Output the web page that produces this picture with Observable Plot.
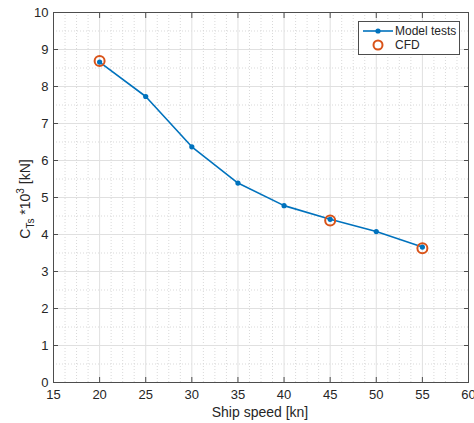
<!DOCTYPE html>
<html><head><meta charset="utf-8">
<script src="https://cdn.jsdelivr.net/npm/d3@7"></script>
<script src="https://cdn.jsdelivr.net/npm/@observablehq/plot@0.6"></script>
<style>
body{margin:0;background:#fff;}
#chart svg{font-family:"Liberation Sans",Arial,sans-serif;}
</style>
</head><body><div id="chart"></div>
<script>
// Data
const speed = [20, 25, 30, 35, 40, 45, 50, 55];
const modelTests = [8.66, 7.73, 6.37, 5.39, 4.78, 4.41, 4.08, 3.66];
const cfdSpeed = [20, 45, 55];
const cfdValues = [8.69, 4.38, 3.63];
const xTicks = [15, 20, 25, 30, 35, 40, 45, 50, 55, 60];
const yTicks = [0, 1, 2, 3, 4, 5, 6, 7, 8, 9, 10];
const xMinor = d3.range(15, 60.001, 1.25).filter(v => !xTicks.includes(v));
const yMinor = d3.range(0.5, 10, 1);
const xLabel = "Ship speed [kn]";
const legendLabels = ["Model tests", "CFD"];

const blue = "#0072BD", orange = "#D95319", axisColor = "#4d4d4d";

const modelData = speed.map((s, i) => ({s, v: modelTests[i]}));
const cfdData = cfdSpeed.map((s, i) => ({s, v: cfdValues[i]}));

const chart = Plot.plot({
  width: 474, height: 423,
  marginLeft: 53, marginRight: 6, marginTop: 12, marginBottom: 41,
  style: {fontSize: "13px", fontFamily: "'Liberation Sans', Arial, sans-serif", color: "#262626", background: "#fff"},
  x: {domain: [15, 60]},
  y: {domain: [0, 10]},
  marks: [
    Plot.ruleX(xMinor, {stroke: "#d9d9d9", strokeDasharray: "1,2"}),
    Plot.ruleY(yMinor, {stroke: "#d9d9d9", strokeDasharray: "1,2"}),
    Plot.ruleX(xTicks, {stroke: "#e0e0e0"}),
    Plot.ruleY(yTicks, {stroke: "#e0e0e0"}),
    Plot.frame({stroke: axisColor}),
    Plot.axisX({anchor: "bottom", ticks: xTicks, tickSize: -5, tickPadding: 12, label: null, stroke: axisColor, fill: "#262626", fontSize: 13}),
    Plot.axisX({anchor: "top", ticks: xTicks, tickSize: -5, tickFormat: () => "", label: null, stroke: axisColor}),
    Plot.axisY({anchor: "left", ticks: yTicks, tickSize: -5, tickPadding: 10, label: null, stroke: axisColor, fill: "#262626", fontSize: 13}),
    Plot.axisY({anchor: "right", ticks: yTicks, tickSize: -5, tickFormat: () => "", label: null, stroke: axisColor}),
    Plot.line(modelData, {x: "s", y: "v", stroke: blue, strokeWidth: 1.6}),
    Plot.dot(modelData, {x: "s", y: "v", r: 2.6, fill: blue}),
    Plot.dot(cfdData, {x: "s", y: "v", r: 5, stroke: orange, strokeWidth: 2, fill: "none"})
  ]
});
document.getElementById("chart").appendChild(chart);

const svg = d3.select(chart);
const font = "'Liberation Sans', Arial, sans-serif";
// x label
svg.append("text").attr("x", 260).attr("y", 417).attr("text-anchor", "middle")
  .attr("font-size", 14).attr("fill", "#262626").attr("font-family", font).text(xLabel);
// y label with subscript/superscript
const yl = svg.append("text").attr("transform", "translate(30,199) rotate(-90)")
  .attr("text-anchor", "middle").attr("font-size", 14).attr("fill", "#262626").attr("font-family", font);
yl.append("tspan").text("C");
yl.append("tspan").attr("font-size", 10).attr("dy", 4).text("Ts");
yl.append("tspan").attr("dy", -4).text(" *10");
yl.append("tspan").attr("font-size", 10).attr("dy", -6).text("3");
yl.append("tspan").attr("dy", 6).text(" [kN]");

// legend
const lg = svg.append("g").attr("text-anchor", "start");
lg.append("rect").attr("x", 358.5).attr("y", 21.5).attr("width", 101).attr("height", 33)
  .attr("fill", "#fff").attr("stroke", axisColor);
lg.append("line").attr("x1", 363).attr("x2", 393).attr("y1", 31).attr("y2", 31).attr("stroke", blue).attr("stroke-width", 1.6);
lg.append("circle").attr("cx", 378).attr("cy", 31).attr("r", 2.6).attr("fill", blue);
lg.append("circle").attr("cx", 378).attr("cy", 45).attr("r", 4.5).attr("fill", "none").attr("stroke", orange).attr("stroke-width", 2);
lg.append("text").attr("x", 395).attr("y", 31).attr("dy", "0.35em").attr("text-anchor", "start").attr("font-size", 12).attr("fill", "#262626").attr("font-family", font).text(legendLabels[0]);
lg.append("text").attr("x", 395).attr("y", 45).attr("dy", "0.35em").attr("text-anchor", "start").attr("font-size", 12).attr("fill", "#262626").attr("font-family", font).text(legendLabels[1]);
</script>
</body></html>
